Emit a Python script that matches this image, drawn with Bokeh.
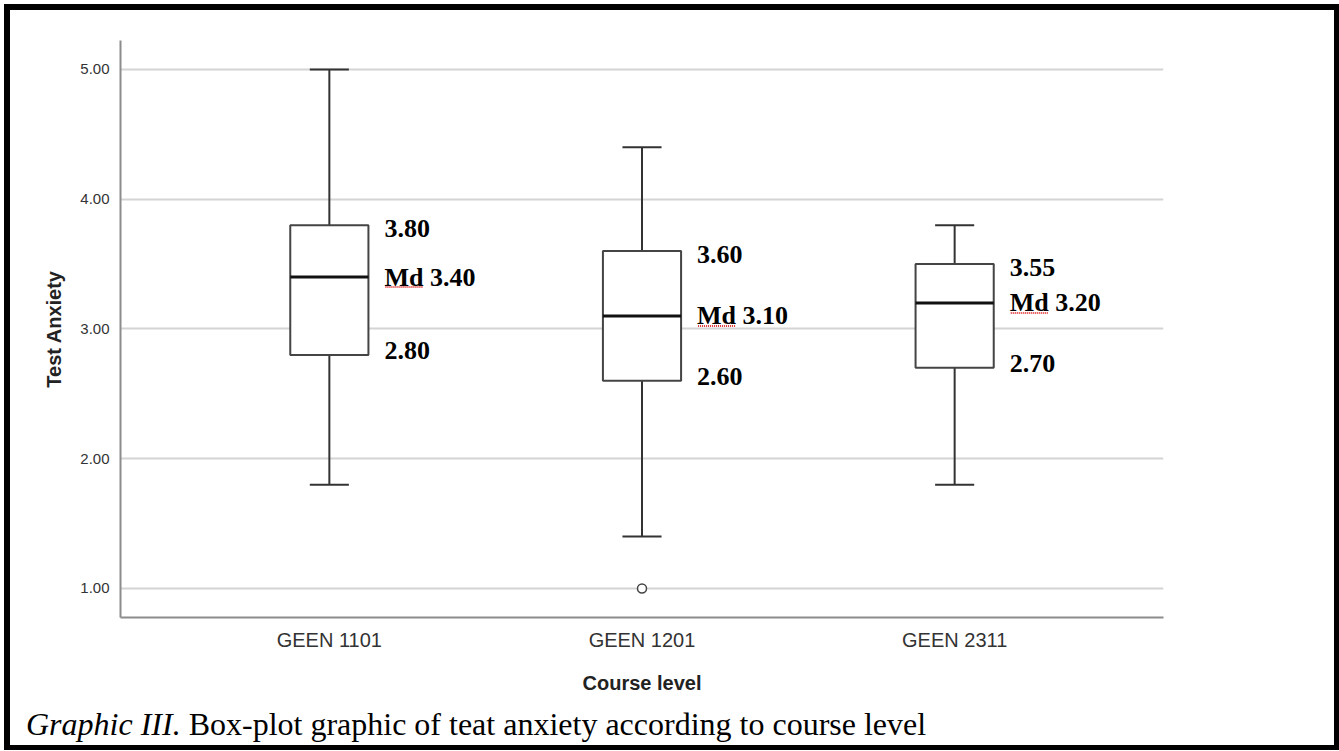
import numpy as np
from bokeh.plotting import figure
from bokeh.layouts import column
from bokeh.models import (FactorRange, Range1d, ColumnDataSource, FixedTicker,
                          PrintfTickFormatter, Div)
from bokeh.transform import dodge
from bokeh.core.properties import value
from bokeh.embed import file_html
from bokeh.resources import INLINE

# ---- data ----
categories = ["GEEN 1101", "GEEN 1201", "GEEN 2311"]
minimum = [1.8, 1.4, 1.8]
q1 = [2.8, 2.6, 2.7]
median = [3.4, 3.1, 3.2]
q3 = [3.8, 3.6, 3.5]
maximum = [5.0, 4.4, 3.8]
outlier_cat = ["GEEN 1201"]
outlier_val = [1.0]
q3_labels = ["3.80", "3.60", "3.55"]
median_labels = ["Md 3.40", "Md 3.10", "Md 3.20"]
q1_labels = ["2.80", "2.60", "2.70"]
y_ticks = [1, 2, 3, 4, 5]

caption_italic = "Graphic III."
caption_rest = "Box-plot graphic of teat anxiety according to course level"

# ---- layout constants ----
W = 1339
FIG_H = 700
CAP_H = 50
FRAME_W, FRAME_H = 1043, 577
LEFT, TOP = 120, 40
X_PAD = 0.168
Y0, Y1 = 0.776, 5.223
px_per_x = FRAME_W / (len(categories) + 2 * X_PAD)
px_per_y = FRAME_H / (Y1 - Y0)

# page frame drawn as inset shadows (left/top/right on the chart, left/right/bottom on caption)
fig_frame = ("inset 4px 4px 0 0 white, inset 10px 10px 0 0 black, "
             "inset -5px 0 0 0 black")
cap_frame = ("inset 4px 0 0 0 white, inset 10px 0 0 0 black, "
             "inset -5px 0 0 0 black, inset 0 -5px 0 0 black")

p = figure(width=W, height=FIG_H, title=None,
           x_range=FactorRange(factors=categories, range_padding=X_PAD,
                               range_padding_units="absolute", factor_padding=0),
           y_range=Range1d(Y0, Y1),
           output_backend="svg", toolbar_location=None,
           min_border_left=LEFT, min_border_top=TOP,
           min_border_right=W - LEFT - FRAME_W, min_border_bottom=FIG_H - TOP - FRAME_H,
           styles={"box-shadow": fig_frame, "background-color": "white"})
p.outline_line_color = None
p.background_fill_color = None
p.border_fill_color = None

# axes
axis_col = "#8c8c8c"
for ax in (p.xaxis, p.yaxis):
    ax.axis_line_color = axis_col
    ax.axis_line_width = 2
    ax.major_tick_line_color = None
    ax.minor_tick_line_color = None
    ax.major_label_text_font = "Liberation Sans"
    ax.major_label_text_color = "#333333"
    ax.axis_label_text_font = "Liberation Sans"
    ax.axis_label_text_font_style = "bold"
    ax.axis_label_text_color = "#222222"
    ax.axis_label_text_font_size = "20px"

p.xaxis.major_label_text_font_size = "20px"
p.xaxis.major_label_standoff = 5
p.xaxis.axis_label = "Course level"
p.xaxis.axis_label_standoff = 18

p.yaxis.ticker = FixedTicker(ticks=y_ticks)
p.yaxis.formatter = PrintfTickFormatter(format="%.2f")
p.yaxis.major_label_text_font_size = "15px"
p.yaxis.major_label_standoff = 5
p.yaxis.axis_label = "Test Anxiety"
p.yaxis.axis_label_standoff = 12

p.xgrid.grid_line_color = None
p.ygrid.ticker = FixedTicker(ticks=y_ticks)
p.ygrid.grid_line_color = "#d4d4d4"
p.ygrid.grid_line_width = 2

src = ColumnDataSource(dict(cat=categories, mn=minimum, q1=q1, med=median,
                            q3=q3, mx=maximum, q3l=q3_labels,
                            medl=median_labels, q1l=q1_labels,
                            und=[m - 10 / px_per_y for m in median]))

BOX_W = 0.25
CAP_W = 0.125
line_col = "#333333"

# whiskers
p.segment(x0="cat", y0="q3", x1="cat", y1="mx", source=src, line_color=line_col, line_width=2)
p.segment(x0="cat", y0="q1", x1="cat", y1="mn", source=src, line_color=line_col, line_width=2)
p.segment(x0=dodge("cat", -CAP_W / 2, range=p.x_range), y0="mx",
          x1=dodge("cat", CAP_W / 2, range=p.x_range), y1="mx",
          source=src, line_color=line_col, line_width=2)
p.segment(x0=dodge("cat", -CAP_W / 2, range=p.x_range), y0="mn",
          x1=dodge("cat", CAP_W / 2, range=p.x_range), y1="mn",
          source=src, line_color=line_col, line_width=2)

# boxes
p.vbar(x="cat", width=BOX_W, bottom="q1", top="q3", source=src,
       fill_color="white", line_color="#444444", line_width=2)
p.segment(x0=dodge("cat", -BOX_W / 2, range=p.x_range), y0="med",
          x1=dodge("cat", BOX_W / 2, range=p.x_range), y1="med",
          source=src, line_color="#111111", line_width=3)

# outlier
p.scatter(x=outlier_cat, y=outlier_val, marker="circle", size=9,
          fill_color="white", line_color="#444444", line_width=1.5)

# annotations
common = dict(source=src, x_offset=16, text_font=value("Liberation Serif"),
              text_font_style="bold", text_font_size="26px",
              text_baseline="middle", text_align="left", text_color="black")
lx = dodge("cat", BOX_W / 2, range=p.x_range)
p.text(x=lx, y="q3", text="q3l", y_offset=3, **common)
p.text(x=lx, y="med", text="medl", y_offset=0, **common)
p.text(x=lx, y="q1", text="q1l", y_offset=-4, **common)

# spell-check squiggle under "Md"
p.segment(x0=dodge("cat", BOX_W / 2 + 17 / px_per_x, range=p.x_range), y0="und",
          x1=dodge("cat", BOX_W / 2 + 55 / px_per_x, range=p.x_range), y1="und",
          source=src, line_color="#e03030", line_width=2, line_dash="1 1")

# caption (rich text: italic + regular)
cap = Div(text=("<div style=\"font-family:'Liberation Serif';font-size:32px;"
                "line-height:37px;padding:6px 0 0 26px;margin:0;white-space:nowrap;color:black;\">"
                f"<i>{caption_italic}</i> {caption_rest}</div>"),
          width=W, height=CAP_H, margin=0,
          styles={"background-color": "white", "box-shadow": cap_frame})

layout = column(p, cap, width=W, height=FIG_H + CAP_H, spacing=0)

open("out.html", "w").write(file_html(layout, INLINE))
